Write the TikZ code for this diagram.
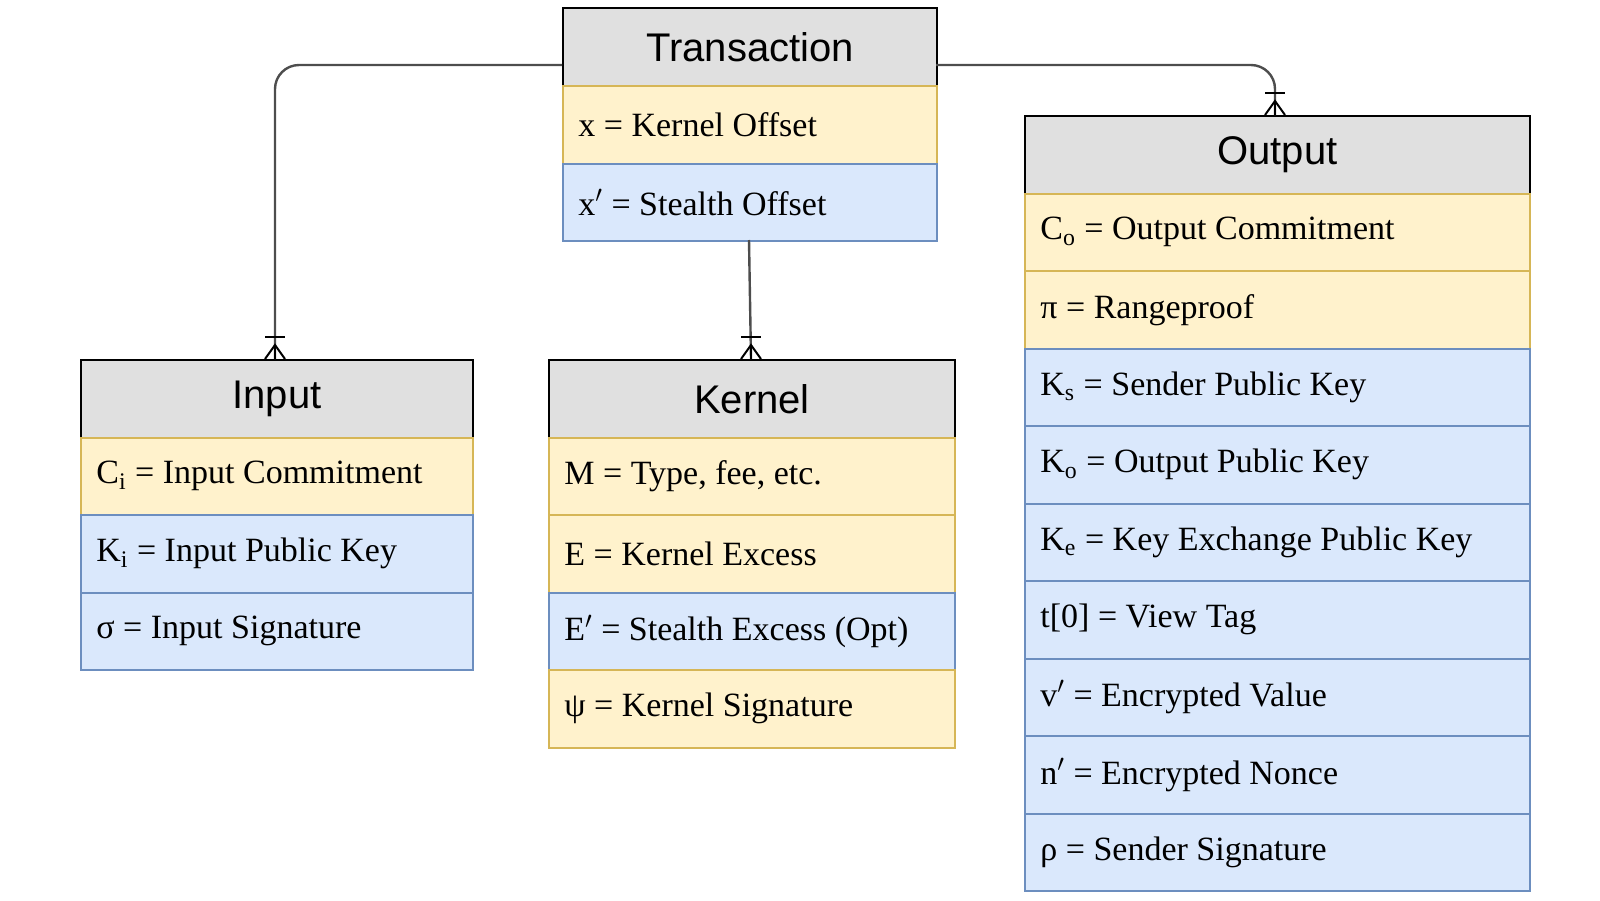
\documentclass[tikz,border=0pt]{standalone}
\usepackage{fontspec}
\setmainfont{Liberation Serif}
\newfontfamily\hdfont{Liberation Sans}
\usetikzlibrary{calc}
\definecolor{hdfill}{HTML}{E0E0E0}
\definecolor{yfill}{HTML}{FFF2CC}
\definecolor{ydraw}{HTML}{D6B656}
\definecolor{bfill}{HTML}{DAE8FC}
\definecolor{bdraw}{HTML}{6C8EBF}
\definecolor{conn}{HTML}{4D4D4D}
\tikzset{
  box/.style={rectangle, anchor=north west, minimum height=38.75pt, inner sep=0pt, line width=1pt},
  hd/.style={box, fill=hdfill, draw=black, font=\hdfont\fontsize{20}{24}\selectfont},
  yr/.style={box, fill=yfill, draw=ydraw},
  br/.style={box, fill=bfill, draw=bdraw},
  rowtxt/.style={anchor=west, inner sep=0pt, font=\fontsize{17}{20}\selectfont},
  conn/.style={draw=conn, line width=1.2pt, rounded corners=12pt},
  foot/.style={draw=black, line width=1pt},
}
% \rowbox{name}{style}{x}{y}{width px}{text}
\newcommand\rowbox[6]{%
  \node[#2, minimum width=#5*0.5pt] (#1) at (#3,#4) {};
  \node[rowtxt] (#1t) at ($(#1.west)+(8pt,0)$) {#6};}
\newcommand\hdbox[5]{%
  \node[hd, minimum width=#4*0.5pt] (#1) at (#2,#3) {};
  \node[font=\hdfont\fontsize{20}{24}\selectfont, inner sep=0pt] (#1t) at (#1.center) {#5};}
\newcommand\crowfoot[1]{%
  \draw[foot] ($(#1)+(-5pt,11pt)$) -- ($(#1)+(5pt,11pt)$);
  \draw[foot] ($(#1)+(-5pt,0)$) -- ($(#1)+(0,7pt)$) -- ($(#1)+(5pt,0)$);
  \draw[foot] ($(#1)+(0,7pt)$) -- (#1);}
\begin{document}
\begin{tikzpicture}[x=0.5pt,y=-0.5pt]
\useasboundingbox (0,0) rectangle (1600,900);
% Transaction
\hdbox{tr}{562}{7}{374}{Transaction}
\rowbox{tr1}{yr}{562}{85}{374}{x = Kernel Offset}
\rowbox{tr2}{br}{562}{162.5}{374}{x$'$ = Stealth Offset}
% Input
\hdbox{in}{80}{359}{392}{Input}
\rowbox{in1}{yr}{80}{436.5}{392}{C\textsubscript{i} = Input Commitment}
\rowbox{in2}{br}{80}{514}{392}{K\textsubscript{i} = Input Public Key}
\rowbox{in3}{br}{80}{591.5}{392}{σ = Input Signature}
% Kernel
\hdbox{ke}{548}{359}{406}{Kernel}
\rowbox{ke1}{yr}{548}{436.5}{406}{M = Type, fee, etc.}
\rowbox{ke2}{yr}{548}{514}{406}{E = Kernel Excess}
\rowbox{ke3}{br}{548}{591.5}{406}{E$'$ = Stealth Excess (Opt)}
\rowbox{ke4}{yr}{548}{669}{406}{ψ = Kernel Signature}
% Output
\hdbox{ou}{1024}{115}{505}{Output}
\rowbox{ou1}{yr}{1024}{192.5}{505}{C\textsubscript{o} = Output Commitment}
\rowbox{ou2}{yr}{1024}{270}{505}{π = Rangeproof}
\rowbox{ou3}{br}{1024}{347.5}{505}{K\textsubscript{s} = Sender Public Key}
\rowbox{ou4}{br}{1024}{425}{505}{K\textsubscript{o} = Output Public Key}
\rowbox{ou5}{br}{1024}{502.5}{505}{K\textsubscript{e} = Key Exchange Public Key}
\rowbox{ou6}{br}{1024}{580}{505}{t[0] = View Tag}
\rowbox{ou7}{br}{1024}{657.5}{505}{v$'$ = Encrypted Value}
\rowbox{ou8}{br}{1024}{735}{505}{n$'$ = Encrypted Nonce}
\rowbox{ou9}{br}{1024}{812.5}{505}{ρ = Sender Signature}
% connectors
\coordinate (inT) at (275,359);
\coordinate (keT) at (751,359);
\coordinate (ouT) at (1275,115);
\coordinate (trL) at (562,65);
\coordinate (trR) at (936,65);
\coordinate (trB) at (749,240);
\draw[conn] (trL) -| (inT);
\draw[conn] (trR) -| (ouT);
\draw[conn] (trB) -- (keT);
\crowfoot{inT}
\crowfoot{keT}
\crowfoot{ouT}
\end{tikzpicture}
\end{document}
